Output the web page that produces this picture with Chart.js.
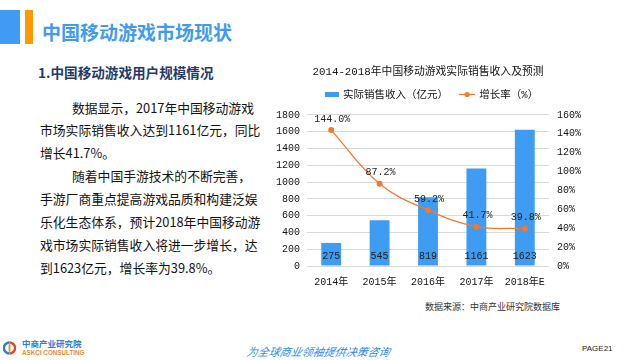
<!DOCTYPE html>
<html>
<head>
<meta charset="utf-8">
<script src="https://cdn.jsdelivr.net/npm/chart.js@4"></script>
<style>
  html,body{margin:0;padding:0;background:#fff;}
  body{width:625px;height:360px;position:relative;overflow:hidden;font-family:"Noto Sans CJK SC","Noto Sans",sans-serif;}
  .abs{position:absolute;white-space:nowrap;}
  #hdrBlue{left:0;top:10px;width:20px;height:34px;background:#3F9CF2;}
  #hdrOrange{left:25px;top:10px;width:8px;height:34px;background:#FF9900;}
  #hdrTitle{left:42px;top:18px;font-size:19px;line-height:28px;font-weight:bold;color:#3D9BF0;}
  #sub{left:38px;top:62px;font-size:13.6px;line-height:20px;font-weight:bold;color:#1F3A68;}
  #para{left:40px;top:96.5px;font-size:12.8px;line-height:22.86px;color:#111;}
  #src{left:425px;top:300px;font-size:9px;line-height:13px;color:#333;}
  #slogan{left:247px;top:344px;font-size:11px;line-height:15px;color:#2E8BE6;font-style:italic;transform:skewX(-12deg);}
  #page{left:582px;top:343px;font-size:8px;line-height:12px;color:#222;font-family:"Liberation Sans",sans-serif;}
  #logoIcon{left:3px;top:341px;width:13px;height:14px;}
  #logoCn{left:22px;top:338px;font-size:8.5px;line-height:11px;font-weight:bold;color:#2A7FD4;}
  #logoEn{left:22px;top:349px;font-size:6.3px;line-height:8px;font-weight:bold;color:#F08A2A;font-family:"Liberation Sans",sans-serif;}
  #chartBox{position:absolute;left:270px;top:62px;width:316px;height:230px;}
</style>
</head>
<body>
<div class="abs" id="hdrBlue"></div>
<div class="abs" id="hdrOrange"></div>
<div class="abs" id="hdrTitle">中国移动游戏市场现状</div>
<div class="abs" id="sub">1.中国移动游戏用户规模情况</div>
<div class="abs" id="para">&emsp;&emsp;&ensp;数据显示，2017年中国移动游戏<br>市场实际销售收入达到1161亿元，同比<br>增长41.7%。<br>&emsp;&emsp;&ensp;随着中国手游技术的不断完善，<br>手游厂商重点提高游戏品质和构建泛娱<br>乐化生态体系，预计2018年中国移动游<br>戏市场实际销售收入将进一步增长，达<br>到1623亿元，增长率为39.8%。</div>
<div class="abs" id="src">数据来源：中商产业研究院数据库</div>
<svg class="abs" id="logoIcon" viewBox="0 0 14 14"><path d="M7 1 A6 6 0 1 0 7 13" fill="none" stroke="#2A7FD4" stroke-width="2.6"/><path d="M7 1 A6 6 0 0 1 7 13" fill="none" stroke="#E8452C" stroke-width="2.6"/><rect x="6" y="3" width="2" height="8" fill="#F08A2A"/></svg>
<div class="abs" id="logoCn">中商产业研究院</div>
<div class="abs" id="logoEn">ASKCI CONSULTING</div>
<div class="abs" id="slogan">为全球商业领袖提供决策咨询</div>
<div class="abs" id="page">PAGE21</div>
<div id="chartBox"><canvas id="c"></canvas></div>
<script>
const categories = ['2014年','2015年','2016年','2017年','2018年E'];
const revenue = [275, 545, 819, 1161, 1623];
const growth = [144.0, 87.2, 59.2, 41.7, 39.8];
const leftTicks = [0,200,400,600,800,1000,1200,1400,1600,1800];
const rightTicks = [0,20,40,60,80,100,120,140,160];
const chartTitle = '2014-2018年中国移动游戏实际销售收入及预测';
const seriesNames = ['实际销售收入（亿元）','增长率（%）'];

const BLUE = '#3E9CF2';
const ORANGE = '#F4782E';
const FONT = '"Liberation Mono","Noto Sans CJK SC",monospace';

function makeIcon(w,h,draw){const c=document.createElement('canvas');c.width=w;c.height=h;draw(c.getContext('2d'));return c;}
const barIcon = makeIcon(14,5,g=>{g.fillStyle=BLUE;g.fillRect(0,0,14,5);});
const lineIcon = makeIcon(16,7,g=>{g.strokeStyle=ORANGE;g.lineWidth=1.2;g.beginPath();g.moveTo(0,3.5);g.lineTo(16,3.5);g.stroke();g.fillStyle=ORANGE;g.beginPath();g.arc(8,3.5,2.6,0,Math.PI*2);g.fill();});

const labelPlugin = {
  id:'valueLabels',
  afterDatasetsDraw(chart){
    const ctx = chart.ctx;
    ctx.save();
    ctx.font = '10px ' + FONT;
    ctx.fillStyle = '#222';
    ctx.textAlign = 'center';
    ctx.textBaseline = 'middle';
    const barMeta = chart.getDatasetMeta(0);
    const bottom = chart.scales.y.getPixelForValue(0);
    barMeta.data.forEach((el,i)=>{ ctx.fillText(String(revenue[i]), el.x, bottom - 10); });
    const lineMeta = chart.getDatasetMeta(1);
    lineMeta.data.forEach((el,i)=>{ ctx.fillText(growth[i].toFixed(1)+'%', el.x + 1, el.y - 11); });
    ctx.restore();
  },
  afterDraw(chart){
    const lg = chart.legend; if(!lg || !lg.legendHitBoxes) return;
    const ctx = chart.ctx;
    lg.legendItems.forEach((item,i)=>{
      const hb = lg.legendHitBoxes[i];
      const icon = item.datasetIndex === 0 ? barIcon : lineIcon;
      const ix = item.datasetIndex === 0 ? hb.left + 7 : hb.left + 5;
      ctx.drawImage(icon, ix, Math.round(hb.top + hb.height/2 - icon.height/2));
    });
  }
};

new Chart(document.getElementById('c'), {
  type:'bar',
  data:{
    labels:categories,
    datasets:[
      {label:seriesNames[0], data:revenue, backgroundColor:BLUE, yAxisID:'y', barPercentage:0.41, categoryPercentage:1, order:2},
      {type:'line', label:seriesNames[1], data:growth, borderColor:ORANGE, backgroundColor:ORANGE, borderWidth:1.3, pointRadius:3, pointBackgroundColor:ORANGE, pointBorderWidth:0, tension:0.4, yAxisID:'y1', order:1}
    ]
  },
  options:{
    responsive:true, maintainAspectRatio:false, animation:false,
    layout:{padding:0},
    plugins:{
      title:{display:true, text:chartTitle, color:'#111', font:{family:FONT, size:10.8, weight:'normal'}, padding:{top:4,bottom:0}},
      legend:{display:true, labels:{usePointStyle:false, boxWidth:20, boxHeight:20, padding:6, color:'#111', font:{family:FONT,size:10.5},
        sort:(a,b)=>a.datasetIndex-b.datasetIndex,
        generateLabels(chart){
          const items = Chart.defaults.plugins.legend.labels.generateLabels(chart);
          items.forEach(it=>{ it.fillStyle='rgba(0,0,0,0)'; it.strokeStyle='rgba(0,0,0,0)'; it.lineWidth=0; });
          return items;
        }}},
      tooltip:{enabled:false}
    },
    scales:{
      x:{grid:{display:false, drawTicks:false}, border:{display:false}, ticks:{color:'#111', font:{family:FONT,size:10}, padding:10, maxRotation:0, autoSkip:false},
         afterFit(s){s.height=26;}},
      y:{position:'left', min:0, max:1800, afterBuildTicks(s){s.ticks=leftTicks.map(v=>({value:v}));},
         grid:{color:'#D9D9D9', lineWidth:1, drawTicks:false}, border:{display:false},
         ticks:{color:'#111', font:{family:FONT,size:10}, padding:7, callback:v=>String(v)},
         afterFit(s){s.width=37;}},
      y1:{position:'right', min:0, max:160, afterBuildTicks(s){s.ticks=rightTicks.map(v=>({value:v}));},
         grid:{display:false, drawTicks:false}, border:{display:false},
         ticks:{color:'#111', font:{family:FONT,size:10}, padding:8, callback:v=>v+'%'},
         afterFit(s){s.width=37;}}
    }
  },
  plugins:[labelPlugin]
});
</script>
</body>
</html>
